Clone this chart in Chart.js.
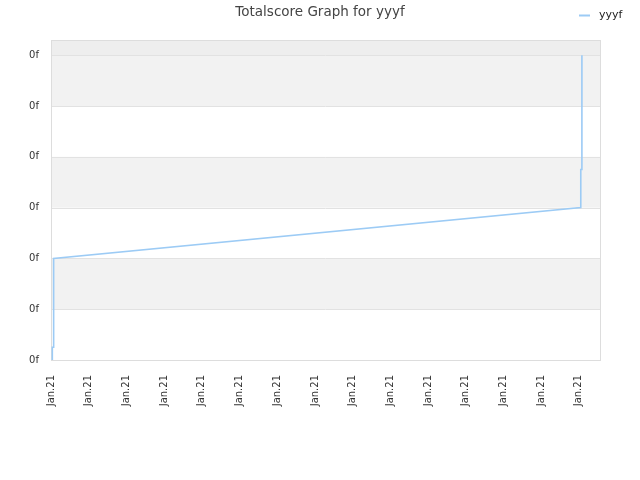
<!DOCTYPE html>
<html>
<head>
<meta charset="utf-8">
<script src="https://cdn.jsdelivr.net/npm/chart.js@4/dist/chart.umd.min.js"></script>
<style>
  html, body { margin: 0; padding: 0; background: #fff; }
  #wrap { width: 640px; height: 480px; }
</style>
</head>
<body>
<div id="wrap"><canvas id="scoreChart" width="640" height="480"></canvas></div>
<script>
// Data
const seriesName = 'yyyf';
const titleText = 'Totalscore Graph for yyyf';
const xTicks = [0, 1, 2, 3, 4, 5, 6, 7, 8, 9, 10, 11, 12, 13, 14];
const xTickLabel = 'Jan.21';
const yTicks = [0, 1, 2, 3, 4, 5, 6];
const yTickLabel = '0f';
const seriesX = [0.035, 0.035, 0.07, 0.07, 14.05, 14.05, 14.08, 14.08];
const seriesY = [0, 0.25, 0.25, 2.0, 3.0, 3.75, 3.75, 6.0];

const FONT = 'DejaVu Sans';
const lineColor = '#9ccbf5';

// Alternating bands + frame + title + legend
const decorPlugin = {
  id: 'decor',
  beforeDatasetsDraw(chart) {
    const { ctx, chartArea: a, scales: { y } } = chart;
    ctx.save();
    for (let i = 0; i < yTicks.length; i++) {
      const y0 = y.getPixelForValue(yTicks[i]);
      const y1 = i + 1 < yTicks.length ? y.getPixelForValue(yTicks[i + 1]) : a.top;
      let fill = null;
      if (i === yTicks.length - 1) fill = '#eeeeee';
      else if (i % 2 === 1) fill = '#f2f2f2';
      if (fill) {
        ctx.fillStyle = fill;
        ctx.fillRect(a.left, y1, a.right - a.left, y0 - y1);
      }
    }
    ctx.strokeStyle = '#e2e2e2';
    ctx.lineWidth = 1;
    yTicks.forEach(v => {
      const py = Math.round(y.getPixelForValue(v)) + 0.5;
      ctx.beginPath();
      ctx.moveTo(a.left, py);
      ctx.lineTo(a.right, py);
      ctx.stroke();
    });
    ctx.strokeStyle = '#dddddd';
    ctx.strokeRect(Math.round(a.left) + 0.5, Math.round(a.top) + 0.5,
      Math.round(a.right - a.left), Math.round(a.bottom - a.top));
    ctx.restore();
  },
  afterDraw(chart) {
    const { ctx } = chart;
    ctx.save();
    ctx.fillStyle = '#444';
    ctx.font = '13.5px "' + FONT + '"';
    ctx.textAlign = 'center';
    ctx.textBaseline = 'middle';
    ctx.fillText(titleText, 320, 12.5);
    // legend
    ctx.strokeStyle = lineColor;
    ctx.lineWidth = 2;
    ctx.beginPath();
    ctx.moveTo(579, 15.5);
    ctx.lineTo(590, 15.5);
    ctx.stroke();
    ctx.fillStyle = '#222';
    ctx.font = '11px "' + FONT + '"';
    ctx.textAlign = 'left';
    ctx.fillText(seriesName, 599, 15);
    ctx.restore();
  }
};

new Chart(document.getElementById('scoreChart'), {
  type: 'line',
  data: {
    datasets: [{
      label: seriesName,
      data: seriesX.map((x, i) => ({ x: x, y: seriesY[i] })),
      borderColor: lineColor,
      borderWidth: 1.6,
      pointRadius: 0,
      tension: 0,
      fill: false
    }]
  },
  options: {
    responsive: false,
    animation: false,
    layout: { padding: { top: 40, right: 40, left: 0, bottom: 0 } },
    plugins: { legend: { display: false }, title: { display: false }, tooltip: { enabled: false } },
    scales: {
      x: {
        type: 'linear',
        min: 0,
        max: 14.56,
        afterBuildTicks: s => { s.ticks = xTicks.map(v => ({ value: v })); },
        afterFit: s => { s.height = 120; },
        grid: { display: false, drawTicks: false },
        border: { display: false },
        ticks: {
          autoSkip: false,
          minRotation: 90,
          maxRotation: 90,
          padding: 15,
          color: '#333',
          font: { family: FONT, size: 10 },
          callback: () => xTickLabel
        }
      },
      y: {
        min: 0,
        max: 6.3,
        afterBuildTicks: s => { s.ticks = yTicks.map(v => ({ value: v })); },
        afterFit: s => { s.width = 51; },
        grid: { display: false, drawTicks: false },
        border: { display: false },
        ticks: {
          padding: 12,
          color: '#333',
          font: { family: FONT, size: 10 },
          callback: () => yTickLabel
        }
      }
    }
  },
  plugins: [decorPlugin]
});
</script>
</body>
</html>
